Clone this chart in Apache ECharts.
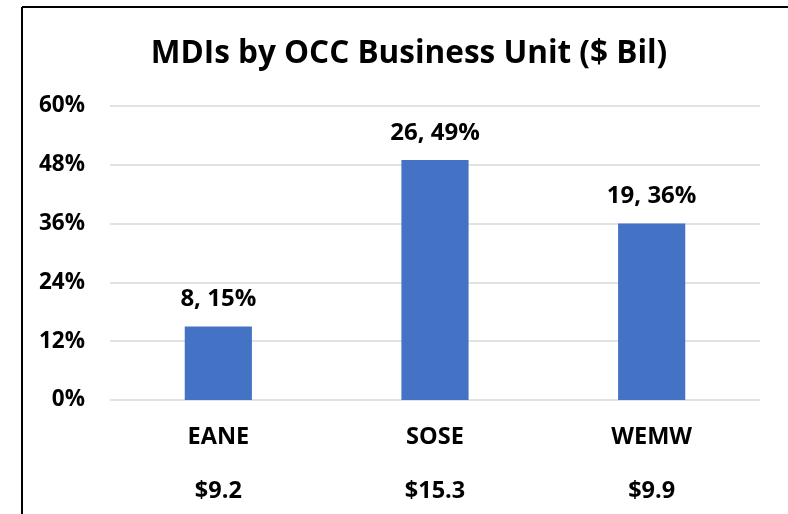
<!DOCTYPE html>
<html>
<head>
<meta charset="utf-8">
<script src="https://cdn.jsdelivr.net/npm/echarts@6/dist/echarts.min.js"></script>
<style>
html,body{margin:0;padding:0;background:#fff;}
#chart{width:788px;height:514px;}
</style>
</head>
<body>
<div id="chart"></div>
<script>
const categories = ['EANE', 'SOSE', 'WEMW'];
const amounts = ['$9.2', '$15.3', '$9.9'];
const counts = [8, 26, 19];
const percents = [15, 49, 36];
const yTicks = [0, 12, 24, 36, 48, 60];

const font = 'Open Sans';
const chart = echarts.init(document.getElementById('chart'));
chart.setOption({
  animation: false,
  title: {
    text: 'MDIs by OCC Business Unit ($ Bil)',
    left: 404, top: 33, textAlign: 'center',
    textStyle: {fontFamily: font, fontWeight: 'bold', fontSize: 31.5, color: '#000'}
  },
  graphic: [
    {type: 'line', shape: {x1: 22, y1: 7, x2: 788, y2: 7}, style: {stroke: '#000', lineWidth: 2}},
    {type: 'line', shape: {x1: 22, y1: 7, x2: 22, y2: 514}, style: {stroke: '#000', lineWidth: 2}}
  ],
  grid: {left: 110, right: 28, top: 106, bottom: 114, outerBoundsMode: 'none'},
  xAxis: {
    type: 'category',
    data: categories,
    axisLine: {show: false},
    axisTick: {show: false},
    axisLabel: {
      margin: 10,
      lineHeight: 54,
      formatter: (v, i) => v + '\n' + amounts[i],
      fontFamily: font, fontWeight: 'bold', fontSize: 23.5, color: '#000'
    }
  },
  yAxis: {
    type: 'value',
    min: yTicks[0], max: yTicks[yTicks.length - 1], interval: 12,
    axisLine: {show: false},
    axisTick: {show: false},
    axisLabel: {
      margin: 25,
      formatter: v => v + '%',
      fontFamily: font, fontWeight: 'bold', fontSize: 22.5, color: '#000'
    },
    splitLine: {lineStyle: {color: '#d9d9d9', width: 1.5}}
  },
  series: [{
    type: 'bar',
    data: percents,
    barWidth: '31%',
    itemStyle: {color: '#4472c4'},
    label: {
      show: true, position: 'top', distance: 15,
      formatter: p => counts[p.dataIndex] + ', ' + percents[p.dataIndex] + '%',
      fontFamily: font, fontWeight: 'bold', fontSize: 24, color: '#000'
    }
  }]
});
</script>
</body>
</html>
